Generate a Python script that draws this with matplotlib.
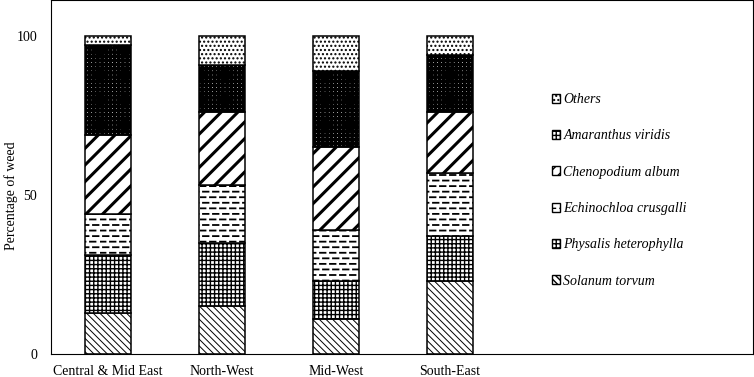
import matplotlib
matplotlib.use("Agg")
import matplotlib.pyplot as plt
import matplotlib.hatch as mhatch
import matplotlib.patches as mpatches
import numpy as np
from matplotlib.path import Path

regions = ["Central & Mid East", "North-West", "Mid-West", "South-East"]
species = ["Solanum torvum", "Physalis heterophylla", "Echinochloa crusgalli",
           "Chenopodium album", "Amaranthus viridis", "Others"]
solanum = [13, 15, 11, 23]
physalis = [18, 20, 12, 14]
echinochloa = [13, 18, 16, 20]
chenopodium = [25, 23, 26, 19]
amaranthus = [28, 15, 24, 18]
others = [3, 9, 11, 6]
yticks = [0, 50, 100]


# '-' draws dashed rows, '+' keeps the plain horizontal lines
class PlusHorizontal(mhatch.HorizontalHatch):
    def __init__(self, hatch, density):
        self.num_lines = int(hatch.count('+') * density)
        self.num_vertices = self.num_lines * 2


class DashedHorizontal(mhatch.HatchPatternBase):
    ndash = 10

    def __init__(self, hatch, density):
        self.num_lines = int(hatch.count('-') * density)
        self.num_vertices = self.num_lines * self.ndash * 2

    def set_vertices_and_codes(self, vertices, codes):
        rows, step = np.linspace(0.0, 1.0, self.num_lines, False, retstep=True)
        rows += step / 2.
        k = 0
        period = 1.0 / self.ndash
        for i, yy in enumerate(rows):
            off = (i % 2) * period * 0.3
            for j in range(self.ndash):
                x0 = j * period + off
                vertices[k] = (x0, yy)
                vertices[k + 1] = (x0 + period * 0.55, yy)
                codes[k] = Path.MOVETO
                codes[k + 1] = Path.LINETO
                k += 2


mhatch._hatch_types = [PlusHorizontal if t is mhatch.HorizontalHatch else t
                       for t in mhatch._hatch_types] + [DashedHorizontal]

plt.rcParams['font.family'] = ['Liberation Serif', 'DejaVu Serif']
plt.rcParams['font.size'] = 10

series = [solanum, physalis, echinochloa, chenopodium, amaranthus, others]
hatches = ['\\' * 5, '++++', '---', '//', '++++', '....']
leg_hatches = ['\\' * 5, '++++', '---', '///', '++++', '....']
hlw = [0.7, 1.0, 1.3, 2.2, 2.4, 1.0]

fig = plt.figure(figsize=(7.54, 3.77), dpi=100)
ax = fig.add_axes([0.0676, 0.061, 0.9314, 0.939])
x = np.arange(len(regions))
bottom = np.zeros(len(regions))
handles = []
for vals, name, h, lh, lw in zip(series, species, hatches, leg_hatches, hlw):
    plt.rcParams['hatch.linewidth'] = lw
    bars = ax.bar(x, vals, 0.4, bottom=bottom, color='white', edgecolor='black',
                  linewidth=1.1, hatch=h, label=name)
    hp = mpatches.Patch(facecolor='white', edgecolor='black', linewidth=1.0,
                        hatch=lh, label=name)
    for p in list(bars) + [hp]:
        if hasattr(p, 'set_hatch_linewidth'):
            p.set_hatch_linewidth(lw)
    handles.append(hp)
    bottom += np.array(vals)

ax.set_xlim(-0.5, 5.66)
ax.set_ylim(0, 111.3)
ax.set_xticks(x)
ax.set_xticklabels(regions)
ax.set_yticks(yticks)
ax.tick_params(length=0)
ax.tick_params(axis='y', pad=10)
ax.tick_params(axis='x', pad=8)
ax.set_ylabel("Percentage of weed")
ax.yaxis.set_label_coords(-0.047, 0.446)

leg = ax.legend(handles[::-1], species[::-1], loc='center left',
                bbox_to_anchor=(0.715, 0.495), bbox_transform=fig.transFigure,
                frameon=False, handlelength=0.62, handleheight=0.62,
                handletextpad=0.22, labelspacing=1.68, prop={'style': 'italic'})

plt.savefig("out.png", dpi=100)
